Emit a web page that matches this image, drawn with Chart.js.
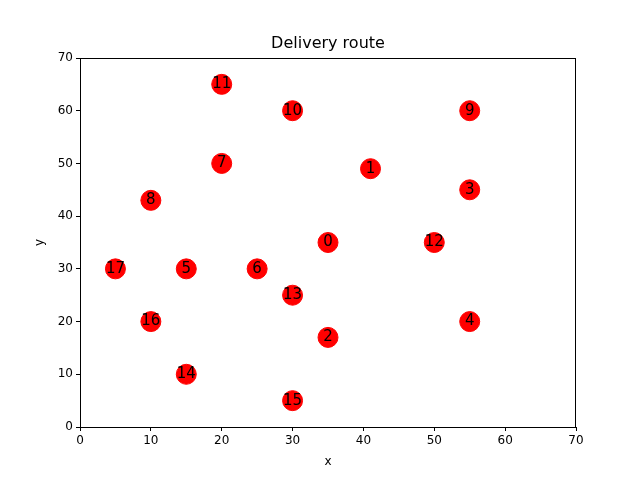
<!DOCTYPE html>
<html>
<head>
<script src="https://cdn.jsdelivr.net/npm/chart.js@4"></script>
<style>
  body { margin: 0; background: #fff; }
  #wrap { width: 640px; height: 480px; }
</style>
</head>
<body>
<div id="wrap"><canvas id="c" width="640" height="480"></canvas></div>
<script>
const stopIds = [0, 1, 2, 3, 4, 5, 6, 7, 8, 9, 10, 11, 12, 13, 14, 15, 16, 17];
const xs = [35, 41, 35, 55, 55, 15, 25, 20, 10, 55, 30, 20, 50, 30, 15, 30, 10, 5];
const ys = [35, 49, 17, 45, 20, 30, 30, 50, 43, 60, 60, 65, 35, 25, 10, 5, 20, 30];
const titleText = 'Delivery route';

const font = 'DejaVu Sans, sans-serif';

// stop numbers, frame, title and axis labels
const labelPlugin = {
    id: 'labels',
    afterDatasetsDraw(chart) {
        const ctx = chart.ctx;
        const meta = chart.getDatasetMeta(0);
        const a = chart.chartArea;
        ctx.save();
        ctx.fillStyle = '#000';
        ctx.textAlign = 'center';
        ctx.textBaseline = 'middle';
        ctx.font = '15px ' + font;
        meta.data.forEach((pt, i) => {
            ctx.fillText(String(stopIds[i]), pt.x, pt.y);
        });
        ctx.strokeStyle = '#000';
        ctx.lineWidth = 1;
        ctx.strokeRect(a.left + 0.5, a.top + 0.5, a.right - a.left - 1, a.bottom - a.top);
        ctx.font = '16px ' + font;
        ctx.textBaseline = 'bottom';
        ctx.fillText(titleText, (a.left + a.right) / 2, a.top - 6);
        ctx.font = '12px ' + font;
        ctx.textBaseline = 'middle';
        ctx.fillText('x', (a.left + a.right) / 2, 462);
        ctx.translate(40, (a.top + a.bottom) / 2);
        ctx.rotate(-Math.PI / 2);
        ctx.fillText('y', 0, 0);
        ctx.restore();
    }
};

function axisOpts(isX) {
    return {
        type: 'linear',
        min: 0, max: 70,
        grid: { display: true, drawOnChartArea: false, drawTicks: true, tickLength: 4, color: '#000' },
        border: { display: true, color: '#000' },
        ticks: { stepSize: 10, color: '#000', padding: 3, font: { family: font, size: 12 } },
        afterFit(scale) {
            if (isX) scale.height = 53; else scale.width = 80;
        }
    };
}

new Chart(document.getElementById('c'), {
    type: 'scatter',
    data: {
        datasets: [{
            data: xs.map((x, i) => ({ x: x, y: ys[i] })),
            backgroundColor: '#ff0000',
            borderColor: '#ff0000',
            pointRadius: 10,
            pointHoverRadius: 10
        }]
    },
    options: {
        responsive: false,
        animation: false,
        layout: { padding: { left: 0, right: 64, top: 58, bottom: 0 } },
        plugins: { legend: { display: false }, tooltip: { enabled: false }, title: { display: false } },
        scales: { x: axisOpts(true), y: axisOpts(false) }
    },
    plugins: [labelPlugin]
});
</script>
</body>
</html>
